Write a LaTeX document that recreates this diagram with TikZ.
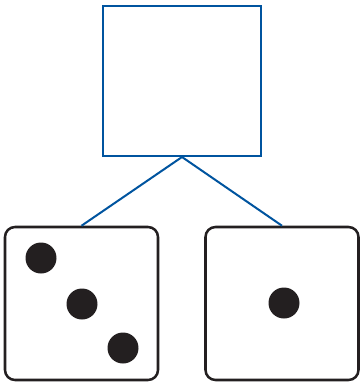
\documentclass[tikz,border=0pt]{standalone}
\usetikzlibrary{positioning}
\definecolor{lineblue}{RGB}{0,84,159}
\definecolor{pipblack}{RGB}{35,31,32}
\tikzstyle{frame} = [rectangle, draw=lineblue, line width=1.5pt, fill=white,
                 minimum width=118.5pt, minimum height=112.5pt, inner sep=0pt]
\tikzstyle{die} = [rectangle, draw=pipblack, line width=1.9pt, fill=white,
                 rounded corners=7.5pt, minimum size=114.75pt, inner sep=0pt]
\tikzstyle{branch} = [draw=lineblue, line width=1.5pt]
\tikzset{
	pip/.style={circle, fill=pipblack, minimum size=23.25pt, inner sep=0pt},
}

\begin{document}
\begin{tikzpicture}[x=0.75pt, y=-0.75pt]

\useasboundingbox (0,0) rectangle (360,383);

\node [frame] at (182,81) (root) {};
\node [die] at (81.5,303.5) (three) {};
\node [die] at (282,303.5) (one) {};

\path [branch] (root.south) -- (three.north);
\path [branch] (root.south) -- (one.north);

	%pips
\foreach \x/\y/\n in {41/258/a, 82/304/b, 123/348/c}
	\node [pip] at (\x,\y) (pip\n) {};
\node [pip] at (284,303) (pipd) {};

\end{tikzpicture}
\end{document}
